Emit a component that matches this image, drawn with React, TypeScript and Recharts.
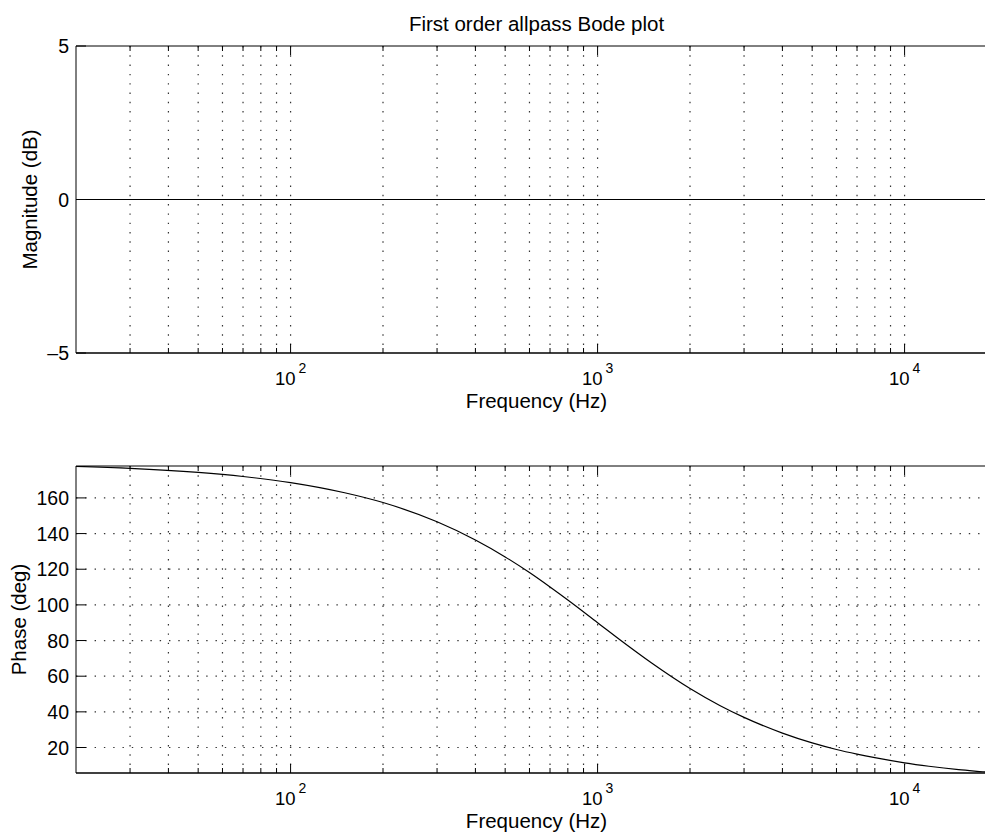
import { LineChart, Line, XAxis, YAxis, ReferenceLine } from "recharts";

// frequency points (Hz) and the phase (deg)
const FREQS = [
  20, 30, 50, 70, 100, 150, 200, 300, 400, 500, 600, 700, 800, 1000, 1200,
  1500, 2000, 2500, 3000, 4000, 5000, 6000, 7000, 8000, 10000, 12000, 15000,
  18000, 20000,
];
const PHASE_DEG = [
  177.7, 176.6, 174.3, 172.0, 168.6, 162.9, 157.4, 146.6, 136.4, 126.9, 118.1,
  110.0, 102.7, 90.0, 79.6, 67.4, 53.1, 43.6, 36.9, 28.1, 22.6, 18.9, 16.3,
  14.3, 11.4, 9.5, 7.6, 6.4, 5.7,
];

// magnitude is flat at 0 dB
const MAG_FREQS = [20, 100, 1000, 10000, 20000];
const MAG_DB = [0, 0, 0, 0, 0];

const DECADES = [100, 1000, 10000];
const MINOR_FREQS = [
  30, 40, 50, 60, 70, 80, 90, 200, 300, 400, 500, 600, 700, 800, 900, 2000,
  3000, 4000, 5000, 6000, 7000, 8000, 9000,
];
const MAG_TICKS = [-5, 0, 5];
const PHASE_TICKS = [20, 40, 60, 80, 100, 120, 140, 160];

const FONT = "'Liberation Sans', Arial, Helvetica, sans-serif";
const DOTS = "1.4 7.9";
const DOT_COLOR = "#333";

const magData = MAG_FREQS.map((f, i) => ({ f, mag: MAG_DB[i] }));
const phaseData = FREQS.map((f, i) => ({ f, phase: PHASE_DEG[i] }));

// dotted vertical grid line with small inward ticks at top and bottom
const vGrid = (len: number) => (p: any) => {
  const top = Math.min(p.y1, p.y2);
  const bot = Math.max(p.y1, p.y2);
  return (
    <g>
      <line x1={p.x1} y1={top} x2={p.x1} y2={bot} stroke={DOT_COLOR} strokeWidth={1.2} strokeDasharray={DOTS} />
      <line x1={p.x1} y1={top} x2={p.x1} y2={top + len} stroke="#000" strokeWidth={1} />
      <line x1={p.x1} y1={bot} x2={p.x1} y2={bot - len} stroke="#000" strokeWidth={1} />
    </g>
  );
};

const hGrid = (p: any) => {
  const l = Math.min(p.x1, p.x2);
  const r = Math.max(p.x1, p.x2);
  return (
    <g>
      <line x1={l} y1={p.y1} x2={r} y2={p.y1} stroke={DOT_COLOR} strokeWidth={1.2} strokeDasharray={DOTS} />
      <line x1={l} y1={p.y1} x2={l + 10} y2={p.y1} stroke="#000" strokeWidth={1} />
      <line x1={r} y1={p.y1} x2={r - 10} y2={p.y1} stroke="#000" strokeWidth={1} />
    </g>
  );
};

const DecadeTick = (props: any) => {
  const { x, y, payload } = props;
  const exp = Math.round(Math.log10(payload.value));
  return (
    <text x={x} y={y + 32} textAnchor="middle" fontFamily={FONT} fontSize={18.5} fill="#000">
      <tspan>10</tspan>
      <tspan dx={3} dy={-12} fontSize={14}>
        {exp}
      </tspan>
    </text>
  );
};

const ValueTick = (withMark: boolean) => (props: any) => {
  const { x, y, payload } = props;
  const v = payload.value;
  const label = v < 0 ? `\u2013${Math.abs(v)}` : `${v}`;
  return (
    <g>
      {withMark && <line x1={x} y1={y} x2={x + 10} y2={y} stroke="#000" strokeWidth={1} />}
      <text x={x - 7} y={y + 7} textAnchor="end" fontFamily={FONT} fontSize={19.5} fill="#000">
        {label}
      </text>
    </g>
  );
};

const xLabel = (dy: number) => (props: any) => {
  const vb = props.viewBox;
  return (
    <text x={vb.x + vb.width / 2} y={vb.y + dy} textAnchor="middle" fontFamily={FONT} fontSize={20.5} fill="#000">
      Frequency (Hz)
    </text>
  );
};

const yLabel = (text: string, bx: number) => (props: any) => {
  const vb = props.viewBox;
  const cy = vb.y + vb.height / 2;
  return (
    <text
      x={bx}
      y={cy}
      transform={`rotate(-90 ${bx} ${cy})`}
      textAnchor="middle"
      fontFamily={FONT}
      fontSize={20.5}
      fill="#000"
    >
      {text}
    </text>
  );
};

export default function App() {
  return (
    <div
      style={{
        position: "fixed",
        left: 0,
        top: 0,
        width: 985,
        height: 835,
        overflow: "hidden",
        background: "#fff",
      }}
    >
      <div style={{ position: "absolute", left: 0, top: 0 }}>
        <LineChart width={1010} height={420} data={magData} margin={{ top: 46, right: 13, bottom: 0, left: 0 }}>
          <XAxis
            dataKey="f"
            type="number"
            scale="log"
            domain={[20, 20000]}
            ticks={DECADES}
            interval={0}
            allowDataOverflow
            height={67}
            tickSize={0}
            tickMargin={0}
            tickLine={false}
            tick={<DecadeTick />}
            axisLine={{ stroke: "#000", strokeWidth: 1.5 }}
            label={xLabel(55)}
          />
          <YAxis
            type="number"
            domain={[-5, 5]}
            ticks={MAG_TICKS}
            interval={0}
            allowDataOverflow
            width={76}
            tickSize={0}
            tickMargin={0}
            tickLine={false}
            tick={ValueTick(true)}
            axisLine={{ stroke: "#000", strokeWidth: 1 }}
            label={yLabel("Magnitude (dB)", 37)}
          />
          {MINOR_FREQS.map((f) => (
            <ReferenceLine key={`m${f}`} x={f} shape={vGrid(5)} />
          ))}
          {DECADES.map((f) => (
            <ReferenceLine key={`d${f}`} x={f} shape={vGrid(9)} />
          ))}
          <ReferenceLine y={5} stroke="#000" strokeWidth={1} />
          <Line
            dataKey="mag"
            type="linear"
            stroke="#000"
            strokeWidth={1.2}
            dot={false}
            isAnimationActive={false}
          />
        </LineChart>
      </div>

      <div style={{ position: "absolute", left: 0, top: 420 }}>
        <LineChart width={1010} height={415} data={phaseData} margin={{ top: 46, right: 13, bottom: 0, left: 0 }}>
          <XAxis
            dataKey="f"
            type="number"
            scale="log"
            domain={[20, 20000]}
            ticks={DECADES}
            interval={0}
            allowDataOverflow
            height={62}
            tickSize={0}
            tickMargin={0}
            tickLine={false}
            tick={<DecadeTick />}
            axisLine={{ stroke: "#000", strokeWidth: 1.5 }}
            label={xLabel(55)}
          />
          <YAxis
            type="number"
            domain={[5.7, 177.9]}
            ticks={PHASE_TICKS}
            interval={0}
            allowDataOverflow
            width={76}
            tickSize={0}
            tickMargin={0}
            tickLine={false}
            tick={ValueTick(false)}
            axisLine={{ stroke: "#000", strokeWidth: 1 }}
            label={yLabel("Phase (deg)", 26)}
          />
          {MINOR_FREQS.map((f) => (
            <ReferenceLine key={`m${f}`} x={f} shape={vGrid(5)} />
          ))}
          {DECADES.map((f) => (
            <ReferenceLine key={`d${f}`} x={f} shape={vGrid(9)} />
          ))}
          {PHASE_TICKS.map((v) => (
            <ReferenceLine key={`h${v}`} y={v} shape={hGrid} />
          ))}
          <ReferenceLine y={177.9} stroke="#000" strokeWidth={1} />
          <Line
            dataKey="phase"
            type="monotone"
            stroke="#000"
            strokeWidth={1.2}
            dot={false}
            isAnimationActive={false}
          />
        </LineChart>
      </div>

      <svg width={985} height={40} style={{ position: "absolute", left: 0, top: 0 }}>
        <text x={536.5} y={30.7} textAnchor="middle" fontFamily={FONT} fontSize={20.5} fill="#000">
          First order allpass Bode plot
        </text>
      </svg>
    </div>
  );
}
